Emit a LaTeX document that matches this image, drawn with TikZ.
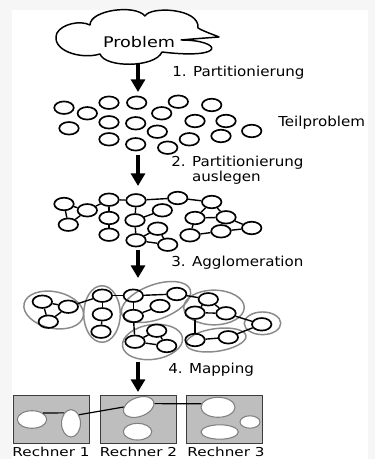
\documentclass[tikz,border=0pt]{standalone}
\usepackage{fontspec}
\setmainfont{DejaVu Sans}
\newfontfamily\fprob[FakeStretch=1.2]{DejaVu Sans}
\newfontfamily\flab[FakeStretch=1.1]{DejaVu Sans}
\newfontfamily\frech[FakeStretch=1.24]{DejaVu Sans}
\usetikzlibrary{shapes.geometric,arrows.meta}
\definecolor{bgout}{RGB}{246,246,246}
\definecolor{grpc}{RGB}{138,138,138}
\definecolor{boxfill}{RGB}{190,190,190}
\definecolor{boxline}{RGB}{60,60,60}
\definecolor{partline}{RGB}{128,128,128}
\begin{document}
\begin{tikzpicture}[x=0.75pt,y=-0.75pt,
  nd/.style={ellipse,draw,line width=1.25pt,minimum width=14.6pt,minimum height=9.4pt,inner sep=0pt},
  ed/.style={line width=1.05pt},
  grp/.style={ellipse,draw=grpc,line width=1.1pt,inner sep=0pt},
  bigarrow/.style={line width=2.3pt,-{Triangle[width=10.5pt,length=9.5pt]}},
  lbl/.style={anchor=west,inner sep=0pt,align=left,font=\flab\fontsize{10.3}{9}\selectfont},
  rbox/.style={draw=boxline,fill=boxfill,line width=1.1pt,minimum width=57pt,minimum height=35.7pt,inner sep=0pt},
  part/.style={ellipse,draw=partline,fill=white,line width=0.8pt,inner sep=0pt},
  rlbl/.style={inner sep=0pt,font=\frech\fontsize{9.2}{10}\selectfont},
]
% background
\fill[bgout] (0,0) rectangle (375,459);
\fill[white] (12,10) rectangle (368,459);

% cloud
\draw[line width=1.1pt,line join=round]
  (57,33) .. controls (62,24) and (80,20) .. (90,25)
  .. controls (90,10) and (135,4) .. (145,16)
  .. controls (150,6) and (200,8) .. (198,28)
  .. controls (205,32) and (212,34) .. (219,37)
  .. controls (205,38) and (192,39) .. (181,40)
  .. controls (222,40) and (228,60) .. (162,52)
  .. controls (155,68) and (105,68) .. (100,54)
  .. controls (80,60) and (50,50) .. (57,33) -- cycle;
\node[inner sep=0pt,font=\fprob\fontsize{11}{12}\selectfont] (prob) at (139,42) {Problem};

% arrows
\coordinate (a1s) at (138,64);  \coordinate (a1e) at (138,92);
\coordinate (a2s) at (138,155); \coordinate (a2e) at (138,186);
\coordinate (a3s) at (138,250); \coordinate (a3e) at (138,278);
\coordinate (a4s) at (138,362); \coordinate (a4e) at (138,392);
\draw[bigarrow] (a1s) -- (a1e);
\draw[bigarrow] (a2s) -- (a2e);
\draw[bigarrow] (a3s) -- (a3e);
\draw[bigarrow] (a4s) -- (a4e);

% labels
\node[lbl] (t1) at (172,73) {1. Partitionierung};
\node[lbl] (t1b) at (278,123) {Teilproblem};
\node[lbl] (t2) at (171,170) {2. Partitionierung\\\hphantom{2. }auslegen};
\node[lbl] (t3) at (171,263) {3. Agglomeration};
\node[lbl] (t4) at (168,370) {4. Mapping};

% stage 1
\foreach \n/\x/\y in {1/64/107.7,2/87.3/113.3,3/109/102.7,4/136.7/102.7,5/178.3/101.7,
  6/211.7/105,7/161.7/113.3,8/109/122.3,9/135.7/123.3,10/195/121,11/226/121,
  12/69/128.3,13/157.3/131.7,14/251.7/131,15/109/139.3,16/189.3/139.3,17/221/136,
  18/135.7/144.3,19/167.7/147.7}
  \node[nd] (s\n) at (\x,\y) {};

% stage 2
\foreach \n/\x/\y in {a/64/204,b/87.3/210.3,c/68.3/224.7,d/109/199.7,e/109/218,f/109/234.7,
  g/136/200.3,h/135/220.3,i/162.3/210.3,j/177.7/198,k/211.7/202,l/157.7/228.7,
  m/136/240.3,n/167.7/244.7,o/195/218,p/226/217.3,q/190/235.3,r/221/231.3,s/251.7/228}
  \node[nd] (b\n) at (\x,\y) {};
\foreach \u/\v in {a/b,a/c,b/c,b/d,d/e,e/f,d/g,g/h,g/j,h/i,h/m,m/l,m/n,l/n,j/k,k/o,k/p,o/p,o/q,q/r,r/s,p/s}
  \draw[ed] (b\u) -- (b\v);

% stage 3 groups
\node[grp,minimum width=45.4pt,minimum height=27.4pt,rotate=-12] (g1) at (53.7,310) {};
\node[grp,minimum width=27.4pt,minimum height=42.4pt] (g2) at (102,314) {};
\node[grp,minimum width=54.5pt,minimum height=26pt,rotate=20] (g3) at (156,302) {};
\node[grp,minimum width=45.4pt,minimum height=26pt,rotate=8] (g4) at (152.5,342) {};
\node[grp,minimum width=45.4pt,minimum height=26pt] (g5) at (214,307.5) {};
\node[grp,minimum width=45.4pt,minimum height=17pt,rotate=8] (g6) at (216,340) {};
\node[grp,minimum width=27.4pt,minimum height=17pt] (g7) at (262.5,323.3) {};

% stage 3 nodes
\foreach \n/\x/\y in {a/42.3/301.7,b/68.3/306.7,c/48.3/321.7,d/102.3/295.7,e/102.3/314.3,f/101/331.7,
  g/133.3/295.7,h/133.3/316,i/160/306,j/176.7/294,k/208.3/299.3,o/195/312.7,p/226/313.3,
  l/156.7/330.7,m/135/341.7,n/166.7/346,q/195/340,r/228.3/337.3,s/261.7/324.3}
  \node[nd] (c\n) at (\x,\y) {};
\foreach \u/\v in {a/b,a/c,b/c,b/d,d/e,e/f,d/g,g/h,g/j,h/i,h/m,m/l,m/n,l/n,j/k,k/o,k/p,o/p,o/q,q/r,r/s,p/s}
  \draw[ed] (c\u) -- (c\v);

% stage 4
\node[rbox] (r1) at (51.35,419.5) {};
\node[rbox] (r2) at (138.35,419.5) {};
\node[rbox] (r3) at (224.65,419.5) {};
\node[part,minimum width=22pt,minimum height=13.2pt] (e1) at (32,419.5) {};
\node[part,minimum width=14.2pt,minimum height=20.5pt] (e2) at (71,423.3) {};
\node[part,minimum width=24pt,minimum height=14.2pt,rotate=20] (e3) at (138.7,407) {};
\node[part,minimum width=21.3pt,minimum height=12.5pt] (e5) at (137.5,431.7) {};
\node[part,minimum width=25.5pt,minimum height=15pt] (e4) at (218,407.3) {};
\node[part,minimum width=28pt,minimum height=10.8pt] (e6) at (219.7,432) {};
\node[part,minimum width=15pt,minimum height=9.3pt] (e7) at (250,422) {};
\draw[line width=0.9pt] (e1.31) -- (e2.123);
\draw[line width=0.9pt] (e2.47) -- (e3.160);
\draw[line width=0.9pt] (e3.352) -- (e4.168);

\node[rlbl] (n1) at (51,452) {Rechner 1};
\node[rlbl] (n2) at (138.5,452) {Rechner 2};
\node[rlbl] (n3) at (226,452) {Rechner 3};
\end{tikzpicture}
\end{document}
